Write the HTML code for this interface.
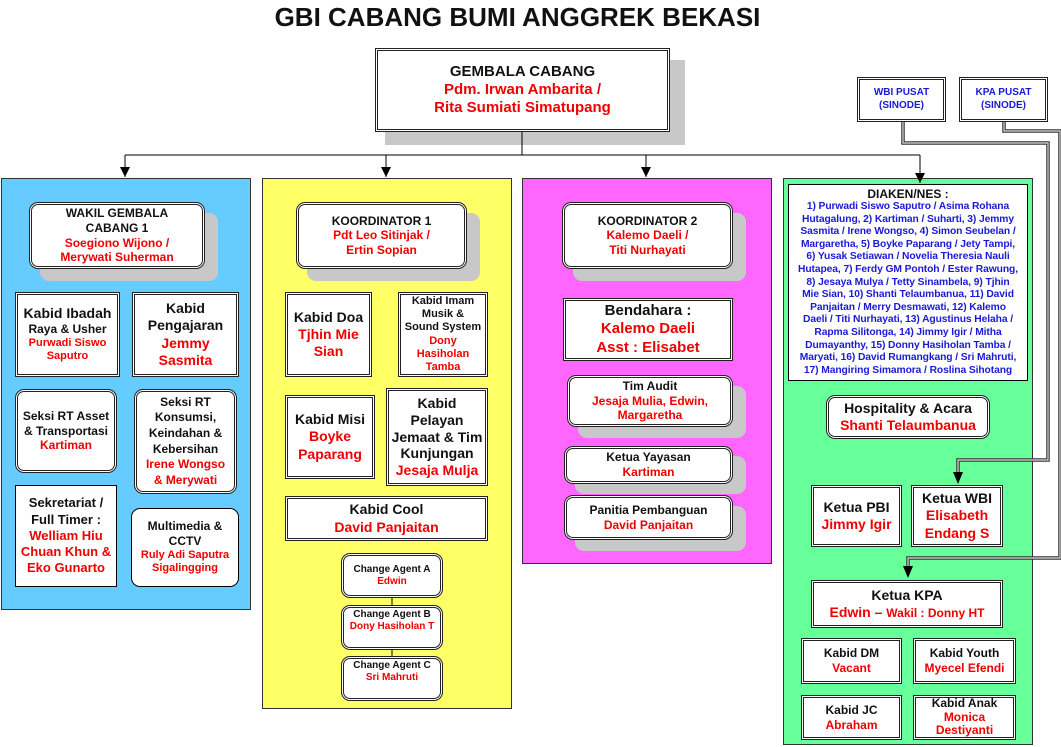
<!DOCTYPE html>
<html><head><meta charset="utf-8"><style>
*{box-sizing:border-box;margin:0;padding:0}
body{width:1061px;height:747px;background:#fff;position:relative;overflow:hidden;font-family:"Liberation Sans",sans-serif;font-weight:bold;color:#111}
.a{position:absolute}
.b{position:absolute;background:#fff;border:3px double #222;display:flex;flex-direction:column;align-items:center;justify-content:center;text-align:center;font-size:13px;line-height:1.22}
.r{border-radius:9px}
.s{border:1px solid #000}
.sh{position:absolute;background:#c8c8c8;border-radius:9px}
.red{color:#f00000}
.blue{color:#1a1ad6}
.col{position:absolute;border:1px solid #333}
</style></head><body>
<div class="a" style="left:0;top:2px;width:1035px;text-align:center;font-size:26px">GBI CABANG BUMI ANGGREK BEKASI</div>

<!-- Gembala -->
<div class="a" style="left:385px;top:60px;width:300px;height:85px;background:#c8c8c8"></div>
<div class="b" style="left:375px;top:48px;width:295px;height:84px;font-size:15px"><div>GEMBALA CABANG</div><div class="red">Pdm. Irwan Ambarita /</div><div class="red">Rita Sumiati Simatupang</div></div>

<div class="b s" style="left:857px;top:77px;width:89px;height:45px;border:3px double #222;font-size:10px"><div class="blue">WBI PUSAT<br>(SINODE)</div></div>
<div class="b s" style="left:959px;top:77px;width:89px;height:45px;border:3px double #222;font-size:10px"><div class="blue">KPA PUSAT<br>(SINODE)</div></div>

<!-- columns -->
<div class="col" style="left:1px;top:178px;width:250px;height:432px;background:#66ccff"></div>
<div class="col" style="left:262px;top:178px;width:250px;height:531px;background:#ffff66"></div>
<div class="col" style="left:522px;top:178px;width:250px;height:386px;background:#ff66ff"></div>
<div class="col" style="left:783px;top:178px;width:250px;height:567px;background:#66ff99"></div>

<!-- blue -->
<div class="sh" style="left:40px;top:213px;width:178px;height:68px"></div>
<div class="b r" style="left:29px;top:202px;width:176px;height:67px;font-size:12px"><div>WAKIL GEMBALA<br>CABANG 1</div><div class="red">Soegiono Wijono /<br>Merywati Suherman</div></div>
<div class="b" style="left:15px;top:292px;width:105px;height:85px;font-size:14px"><div>Kabid Ibadah</div><div style="font-size:12px">Raya &amp; Usher</div><div class="red" style="font-size:11px">Purwadi Siswo<br>Saputro</div></div>
<div class="b" style="left:132px;top:292px;width:107px;height:85px;font-size:14px"><div>Kabid<br>Pengajaran</div><div class="red">Jemmy<br>Sasmita</div></div>
<div class="b r" style="left:15px;top:389px;width:102px;height:84px;font-size:12px"><div>Seksi RT Asset<br>&amp; Transportasi</div><div class="red">Kartiman</div></div>
<div class="b r" style="left:134px;top:389px;width:103px;height:105px;font-size:12px;line-height:1.3"><div>Seksi RT<br>Konsumsi,<br>Keindahan &amp;<br>Kebersihan</div><div class="red">Irene Wongso<br>&amp; Merywati</div></div>
<div class="b s" style="left:15px;top:485px;width:102px;height:102px;font-size:13px;line-height:1.25"><div>Sekretariat /<br>Full Timer :</div><div class="red">Welliam Hiu<br>Chuan Khun &amp;<br>Eko Gunarto</div></div>
<div class="b r s" style="left:131px;top:508px;width:108px;height:79px;font-size:12px"><div>Multimedia &amp;<br>CCTV</div><div class="red" style="font-size:11px">Ruly Adi Saputra<br>Sigalingging</div></div>

<!-- yellow -->
<div class="sh" style="left:307px;top:213px;width:173px;height:68px"></div>
<div class="b r" style="left:296px;top:202px;width:171px;height:67px;font-size:12px"><div>KOORDINATOR 1</div><div class="red">Pdt Leo Sitinjak /<br>Ertin Sopian</div></div>
<div class="b" style="left:285px;top:292px;width:87px;height:85px;font-size:14px"><div>Kabid Doa</div><div class="red">Tjhin Mie<br>Sian</div></div>
<div class="b" style="left:398px;top:292px;width:90px;height:85px;font-size:11px;line-height:1.2"><div>Kabid Imam<br>Musik &amp;<br>Sound System</div><div class="red">Dony<br>Hasiholan<br>Tamba</div></div>
<div class="b" style="left:285px;top:395px;width:90px;height:84px;font-size:14px"><div>Kabid Misi</div><div class="red">Boyke<br>Paparang</div></div>
<div class="b" style="left:386px;top:388px;width:102px;height:98px;font-size:14px;line-height:1.2"><div>Kabid<br>Pelayan<br>Jemaat &amp; Tim<br>Kunjungan</div><div class="red">Jesaja Mulja</div></div>
<div class="b" style="left:285px;top:496px;width:203px;height:45px;font-size:14px"><div>Kabid Cool</div><div class="red">David Panjaitan</div></div>
<div class="b r" style="left:341px;top:553px;width:102px;height:45px;font-size:10px;justify-content:flex-start;padding-top:8px"><div>Change Agent A</div><div class="red">Edwin</div></div>
<div class="b r" style="left:341px;top:605px;width:102px;height:45px;font-size:10px;justify-content:flex-start;padding-top:1px"><div>Change Agent B</div><div class="red">Dony Hasiholan T</div></div>
<div class="b r" style="left:341px;top:656px;width:102px;height:45px;font-size:10px;justify-content:flex-start;padding-top:1px"><div>Change Agent C</div><div class="red">Sri Mahruti</div></div>

<!-- magenta -->
<div class="sh" style="left:573px;top:213px;width:173px;height:68px"></div>
<div class="b r" style="left:562px;top:202px;width:171px;height:67px;font-size:12px"><div>KOORDINATOR 2</div><div class="red">Kalemo Daeli /<br>Titi Nurhayati</div></div>
<div class="b" style="left:563px;top:298px;width:170px;height:63px;font-size:15px"><div>Bendahara :</div><div class="red">Kalemo Daeli<br>Asst : Elisabet</div></div>
<div class="sh" style="left:578px;top:386px;width:168px;height:52px"></div>
<div class="b r" style="left:567px;top:375px;width:166px;height:52px;font-size:12px"><div>Tim Audit</div><div class="red">Jesaja Mulia, Edwin,<br>Margaretha</div></div>
<div class="sh" style="left:575px;top:456px;width:171px;height:38px"></div>
<div class="b r" style="left:564px;top:446px;width:169px;height:38px;font-size:12px"><div>Ketua Yayasan</div><div class="red">Kartiman</div></div>
<div class="sh" style="left:575px;top:506px;width:171px;height:45px"></div>
<div class="b r" style="left:564px;top:495px;width:169px;height:45px;font-size:12px"><div>Panitia Pembanguan</div><div class="red">David Panjaitan</div></div>

<!-- green -->
<div class="b s" style="left:788px;top:184px;width:240px;height:197px;font-size:10.3px;line-height:12.6px;justify-content:flex-start;padding:2px 0 0;white-space:nowrap;overflow:hidden"><div style="font-size:12px;line-height:14px">DIAKEN/NES :</div><div class="blue" style="letter-spacing:-0.1px">1) Purwadi Siswo Saputro / Asima Rohana<br>Hutagalung, 2) Kartiman / Suharti, 3) Jemmy<br>Sasmita / Irene Wongso, 4) Simon Seubelan /<br>Margaretha, 5) Boyke Paparang / Jety Tampi,<br>6) Yusak Setiawan / Novelia Theresia Nauli<br>Hutapea, 7) Ferdy GM Pontoh / Ester Rawung,<br>8) Jesaya Mulya / Tetty Sinambela, 9) Tjhin<br>Mie Sian, 10) Shanti Telaumbanua, 11) David<br>Panjaitan / Merry Desmawati, 12) Kalemo<br>Daeli / Titi Nurhayati, 13) Agustinus Helaha /<br>Rapma Silitonga, 14) Jimmy Igir / Mitha<br>Dumayanthy, 15) Donny Hasiholan Tamba /<br>Maryati, 16) David Rumangkang / Sri Mahruti,<br>17) Mangiring Simamora / Roslina Sihotang</div></div>
<div class="b r" style="left:826px;top:395px;width:164px;height:44px;font-size:14px"><div>Hospitality &amp; Acara</div><div class="red">Shanti Telaumbanua</div></div>
<div class="b" style="left:811px;top:485px;width:91px;height:62px;font-size:14px"><div>Ketua PBI</div><div class="red">Jimmy Igir</div></div>
<div class="b" style="left:911px;top:485px;width:92px;height:62px;font-size:14px"><div>Ketua WBI</div><div class="red">Elisabeth<br>Endang S</div></div>
<div class="b" style="left:811px;top:580px;width:192px;height:48px;font-size:14px"><div>Ketua KPA</div><div class="red">Edwin – <span style="font-size:12px">Wakil : Donny HT</span></div></div>
<div class="b" style="left:801px;top:638px;width:101px;height:46px;font-size:12px"><div>Kabid DM</div><div class="red">Vacant</div></div>
<div class="b" style="left:913px;top:638px;width:103px;height:46px;font-size:12px"><div>Kabid Youth</div><div class="red">Myecel Efendi</div></div>
<div class="b" style="left:801px;top:695px;width:101px;height:45px;font-size:12px"><div>Kabid JC</div><div class="red">Abraham</div></div>
<div class="b" style="left:913px;top:695px;width:103px;height:45px;font-size:12px;line-height:1.15"><div>Kabid Anak</div><div class="red">Monica<br>Destiyanti</div></div>

<svg class="a" style="left:0;top:0;z-index:5" width="1061" height="747">
<defs><marker id="ad" viewBox="0 0 10 10" markerWidth="10" markerHeight="12" refX="5" refY="10" markerUnits="userSpaceOnUse"><path d="M0,0 L10,0 L5,10z" fill="#000"/></marker></defs>
<g stroke="#000" stroke-width="1" fill="none">
<path d="M522 132 V155 M125 155 H920"/>
<path d="M125 155 V177" marker-end="url(#ad)"/>
<path d="M386 155 V177" marker-end="url(#ad)"/>
<path d="M646 155 V177" marker-end="url(#ad)"/>
<path d="M920 155 V183" marker-end="url(#ad)"/>
<path d="M392 598 V605 M392 650 V656"/>
</g>
<g fill="none" stroke="#333" stroke-width="3.5">
<path d="M903 122 V143 H1048 V460 H958 V472"/>
<path d="M1004 122 V131 H1060 V558 H908 V566"/>
</g>
<g fill="none" stroke="#ddd" stroke-width="1.2">
<path d="M903 122 V143 H1048 V460 H958 V472"/>
<path d="M1004 122 V131 H1060 V558 H908 V566"/>
</g>
<path d="M953 472 H963 L958 484z M903 566 H913 L908 578z" fill="#000"/>
</svg>
</body></html>
